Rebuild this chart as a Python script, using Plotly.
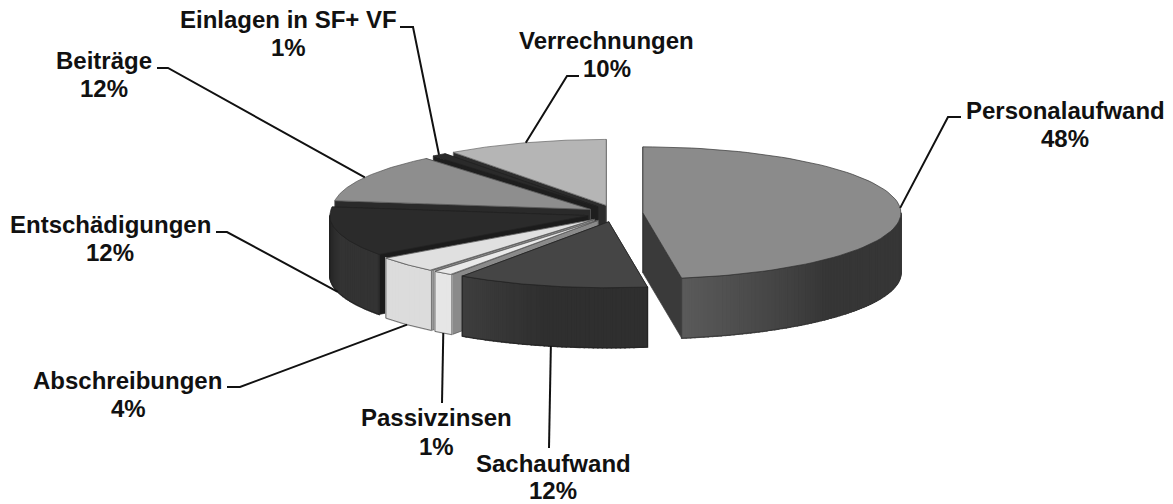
import numpy as np
import plotly.graph_objects as go

# data (order: clockwise from 12 o'clock)
categories = ["Personalaufwand", "Sachaufwand", "Passivzinsen", "Abschreibungen",
              "Entschädigungen", "Beiträge", "Einlagen in SF+ VF", "Verrechnungen"]
values = [47.6, 12.0, 1.3, 4.1, 12.1, 11.9, 0.9, 10.1]
percent_labels = ["48%", "12%", "1%", "4%", "12%", "12%", "1%", "10%"]

# styles
top_colors = ["#8b8b8b", "#454545", "#e9e9e9", "#e0e0e0", "#2b2b2b", "#8e8e8e", "#2a2a2a", "#b5b5b5"]
wall_left = ["#5a5a5a", "#3e3e3e", "#e6e6e6", "#dcdcdc", "#242424", "#555555", "#222222", "#777777"]
wall_right = ["#363636", "#2f2f2f", "#e6e6e6", "#dcdcdc", "#333333", "#555555", "#222222", "#777777"]
face_colors = ["#3a3a3a", "#333333", "#8a8a8a", "#8a8a8a", "#1c1c1c", "#2a2a2a", "#1e1e1e", "#2c2c2c"]
edge_colors = ["#333333", "#222222", "#555555", "#555555", "#222222", "#555555", "#222222", "#666666"]
draw_order = [7, 6, 5, 4, 3, 2, 1, 0]

# pseudo-3D projection geometry (pixels)
CX, CY, RX, RY, DEPTH, EX, EY = 615, 213.5, 258, 66, 60, 28, 8.5

# label layout: name xy, percent xy, leader elbow points; anchor is computed from slice
layout_labels = {
    "Personalaufwand": dict(n=(1065, 110), p=(1065, 138), elbow=[(948, 117), (961, 117)]),
    "Sachaufwand": dict(n=(553, 463), p=(553, 490), elbow=[(549, 448)]),
    "Passivzinsen": dict(n=(436, 417), p=(436, 446), elbow=[(442, 403)]),
    "Abschreibungen": dict(n=(127, 380), p=(128, 408), elbow=[(240, 387), (227, 387)]),
    "Entschädigungen": dict(n=(110, 224), p=(110, 252), elbow=[(227, 232), (216, 232)]),
    "Beiträge": dict(n=(104, 60), p=(104, 88), elbow=[(168, 68), (157, 68)]),
    "Einlagen in SF+ VF": dict(n=(288, 19), p=(288, 47), elbow=[(413, 27), (400, 27)]),
    "Verrechnungen": dict(n=(606, 40), p=(607, 68), elbow=[(567, 76), (579, 76)]),
}

fracs = np.array(values) / sum(values)
ends = np.cumsum(fracs) * 2 * np.pi
starts = ends - fracs * 2 * np.pi


def apex(i):
    mid = (starts[i] + ends[i]) / 2
    return CX + np.sin(mid) * EX, CY - np.cos(mid) * EY


def arc(i, t):
    ax, ay = apex(i)
    return ax + RX * np.sin(t), ay - RY * np.cos(t)


def poly(fig, xs, ys, fill, line=None, width=0.7):
    fig.add_trace(go.Scatter(x=list(xs), y=list(ys), mode="lines", fill="toself", fillcolor=fill,
                             line=dict(color=line or fill, width=width), hoverinfo="skip", showlegend=False))


def mix(a, b, f):
    ca = [int(a[k:k + 2], 16) for k in (1, 3, 5)]
    cb = [int(b[k:k + 2], 16) for k in (1, 3, 5)]
    return "rgb(%d,%d,%d)" % tuple(round(x + (y - x) * f) for x, y in zip(ca, cb))


fig = go.Figure()

for i in draw_order:
    ax, ay = apex(i)
    # cut faces
    for t in (ends[i], starts[i]):
        px, py = arc(i, t)
        poly(fig, [ax, px, px, ax, ax], [ay, py, py + DEPTH, ay + DEPTH, ay], face_colors[i], edge_colors[i])
    # outer wall, visible front part only
    lo, hi = max(starts[i], np.pi / 2), min(ends[i], 3 * np.pi / 2)
    if hi > lo:
        n = max(2, int((hi - lo) / np.radians(1.0)))
        ts = np.linspace(lo, hi, n + 1)
        for k in range(n):
            x0, y0 = arc(i, ts[k])
            x1, y1 = arc(i, ts[k + 1])
            f = (k + 0.5) / n
            col = mix(wall_right[i], wall_left[i], max(0, 1 - (1 - f) * 2.2))
            poly(fig, [x0, x1, x1, x0, x0], [y0, y1, y1 + DEPTH, y0 + DEPTH, y0], col, width=1.5)
        xs, ys = arc(i, ts)
        fig.add_trace(go.Scatter(x=list(xs) + [None] + list(xs), y=list(ys) + [None] + list(ys + DEPTH),
                                 mode="lines", line=dict(color=edge_colors[i], width=0.8),
                                 hoverinfo="skip", showlegend=False))
        for t in (lo, hi):
            px, py = arc(i, t)
            fig.add_trace(go.Scatter(x=[px, px], y=[py, py + DEPTH], mode="lines",
                                     line=dict(color=edge_colors[i], width=0.8),
                                     hoverinfo="skip", showlegend=False))
    # top surface
    ts = np.linspace(starts[i], ends[i], 80)
    xs, ys = arc(i, ts)
    poly(fig, [ax, *xs, ax], [ay, *ys, ay], top_colors[i], edge_colors[i])

# leader lines and labels
for i, name in enumerate(categories):
    mid = (starts[i] + ends[i]) / 2
    px, py = arc(i, mid)
    if np.cos(mid) < 0 and mid > np.radians(150):
        py = py + DEPTH
    spec = layout_labels[name]
    lx = [px] + [e[0] for e in spec["elbow"]]
    ly = [py] + [e[1] for e in spec["elbow"]]
    fig.add_trace(go.Scatter(x=lx, y=ly, mode="lines", line=dict(color="#111111", width=2),
                             hoverinfo="skip", showlegend=False))
    for txt, (tx, ty) in ((name, spec["n"]), (percent_labels[i], spec["p"])):
        fig.add_annotation(x=tx, y=ty, text=txt, showarrow=False, xanchor="center", yanchor="middle",
                           font=dict(family="Liberation Sans, Arial, sans-serif", size=24, color="#111111",
                                     weight="bold"))

fig.update_layout(
    width=1173, height=504, margin=dict(l=0, r=0, t=0, b=0),
    paper_bgcolor="white", plot_bgcolor="white", hovermode=False,
    xaxis=dict(range=[0, 1173], visible=False, fixedrange=True),
    yaxis=dict(range=[504, 0], visible=False, fixedrange=True),
)
fig.write_html("out.html", config={"displayModeBar": False},
               post_script="document.body.style.margin='0';document.body.style.overflow='hidden';")
